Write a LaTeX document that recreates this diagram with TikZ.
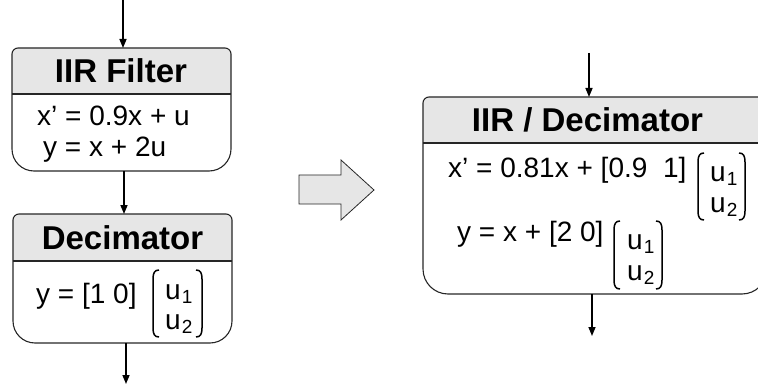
\documentclass[tikz,border=0pt]{standalone}
\usepackage{fontspec}
\setmainfont{Liberation Sans}
\usetikzlibrary{arrows.meta}
\definecolor{headgray}{HTML}{E6E6E6}
\definecolor{linegray}{HTML}{262626}
\newcommand\myroundbox[6]{%
  \fill[headgray] (#1,#4) -- (#1,#3+6) arc[start angle=180,end angle=270,radius=6]
    -- (#2-6,#3) arc[start angle=270,end angle=360,radius=6] -- (#2,#4) -- cycle;
  \draw[boxline] (#1,#3+6) arc[start angle=180,end angle=270,radius=6]
    -- (#2-6,#3) arc[start angle=270,end angle=360,radius=6]
    -- (#2,#5-#6) arc[start angle=0,end angle=90,radius=#6]
    -- (#1+#6,#5) arc[start angle=90,end angle=180,radius=#6] -- cycle;
  \draw[boxline] (#1,#4) -- (#2,#4);
}
\newcommand\mybrackets[4]{% xl xr top bottom
  \draw[brk] (#1+6,#3) .. controls (#1+1.5,#3) and (#1,#3+3) .. (#1,#3+9) -- (#1,#4-9) .. controls (#1,#4-3) and (#1+1.5,#4) .. (#1+6,#4);
  \draw[brk] (#2-6,#3) .. controls (#2-1.5,#3) and (#2,#3+3) .. (#2,#3+9) -- (#2,#4-9) .. controls (#2,#4-3) and (#2-1.5,#4) .. (#2-6,#4);
}
\newcommand\usub[1]{u\hspace{1pt}\raisebox{-4pt}{\fontsize{19}{21}\selectfont #1}}
\begin{document}
\begin{tikzpicture}[x=1pt,y=-1pt,
  boxline/.style={draw=linegray,line width=1.1pt},
  brk/.style={draw=black,line width=1.5pt},
  edge/.style={draw=black,line width=1.5pt,-{Triangle[length=9pt,width=7pt]}},
  head/.style={font=\fontsize{33}{37}\selectfont\bfseries,inner sep=0},
  body/.style={font=\fontsize{28}{32}\selectfont,anchor=base west,inner sep=0},
]
\useasboundingbox (0,0) rectangle (758,385);

% ---- IIR Filter box
\myroundbox{12}{231}{48}{94}{171}{22}
\node[head] (hf) at (121,70.5) {IIR Filter};
\node[body] (f1) at (37,126) {x’ = 0.9x + u};
\node[body] (f2) at (43,157) {y = x + 2u};

% ---- Decimator box
\myroundbox{13}{232}{214}{261}{343}{22}
\node[head] (hd) at (122.5,237.5) {Decimator};
\node[body] (d1) at (36,303) {y = [1 0]};
\mybrackets{153}{202}{270}{337}
\node[body] (du1) at (165,299) {\usub{1}};
\node[body] (du2) at (165,329) {\usub{2}};

% ---- Combined box
\myroundbox{423}{767}{97}{143}{294}{25}
\node[head] (hc) at (587.5,120) {IIR / Decimator};
\node[body] (c1) at (448,178) {x’ = 0.81x + [0.9\hspace{0.28em} 1]};
\mybrackets{698}{745}{153}{220}
\node[body] (cu1) at (710,182) {\usub{1}};
\node[body] (cu2) at (710,212) {\usub{2}};
\node[body] (c2) at (457,241) {y = x + [2 0]};
\mybrackets{614}{662}{221}{289}
\node[body] (cv1) at (627,249) {\usub{1}};
\node[body] (cv2) at (627,280) {\usub{2}};

% ---- connectors
\coordinate (in1) at (123,0);
\coordinate (ftop) at (123,48);
\coordinate (fbot) at (124,171);
\coordinate (dtop) at (124,214);
\coordinate (dbot) at (126,343);
\coordinate (out1) at (126,384);
\coordinate (in2) at (589,53);
\coordinate (ctop) at (589,97);
\coordinate (cbot) at (592,294);
\coordinate (out2) at (592,336);
\draw[edge] (in1) -- (ftop);
\draw[edge] (fbot) -- (dtop);
\draw[edge] (dbot) -- (out1);
\draw[edge] (in2) -- (ctop);
\draw[edge] (cbot) -- (out2);

% ---- block arrow
\draw[fill=headgray,draw=linegray,line width=0.8pt]
  (299,175) -- (341,175) -- (341,160) -- (374,190) -- (341,220) -- (341,204) -- (299,204) -- cycle;
\end{tikzpicture}
\end{document}
